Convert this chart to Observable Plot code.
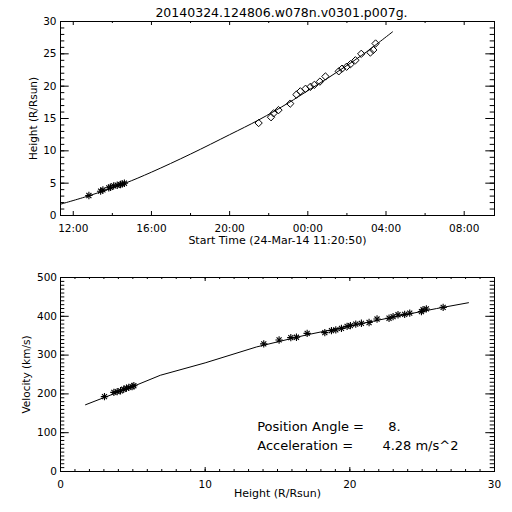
<!DOCTYPE html>
<html><head><meta charset="utf-8">
<script src="https://cdn.jsdelivr.net/npm/d3@7"></script>
<script src="https://cdn.jsdelivr.net/npm/@observablehq/plot@0.6"></script>
<style>
html,body{margin:0;padding:0;background:#fff;}
svg{display:block;}
</style></head><body><div id="chart"></div>
<script>
// ---------- data ----------
const title = "20140324.124806.w078n.v0301.p007g.";
const topXLabel = "Start Time (24-Mar-14 11:20:50)";
const topYLabel = "Height (R/Rsun)";
const botXLabel = "Height (R/Rsun)";
const botYLabel = "Velocity (km/s)";
const paText = "Position Angle =";
const paValue = "8.";
const accText = "Acceleration =";
const accValue = "4.28 m/s^2";

const timeStart = "2014-03-24T11:20:50";
const timeEnd = "2014-03-25T09:33:00";

// early (C2) points: time, height
const starTimes = ["2014-03-24T12:48","2014-03-24T13:24","2014-03-24T13:31","2014-03-24T13:49","2014-03-24T13:54","2014-03-24T14:04","2014-03-24T14:15","2014-03-24T14:25","2014-03-24T14:30","2014-03-24T14:37"];
const starHeights = [3.09,3.76,3.97,4.28,4.37,4.59,4.68,4.79,4.90,4.99];

// later (C3) points: time, height
const diamondTimes = ["2014-03-24T21:29","2014-03-24T22:07","2014-03-24T22:15","2014-03-24T22:30","2014-03-24T23:06","2014-03-24T23:25","2014-03-24T23:37","2014-03-24T23:53","2014-03-25T00:08","2014-03-25T00:20","2014-03-25T00:37","2014-03-25T00:54","2014-03-25T01:35","2014-03-25T01:45","2014-03-25T01:59","2014-03-25T02:11","2014-03-25T02:26","2014-03-25T02:44","2014-03-25T03:12","2014-03-25T03:21","2014-03-25T03:28"];
const diamondHeights = [14.3,15.2,15.8,16.3,17.3,18.7,19.2,19.6,19.9,20.2,20.7,21.5,22.3,22.7,23.0,23.4,24.0,25.0,25.2,25.6,26.6];

// height-time fit line
const fitTimes = ["2014-03-24T11:21","2014-03-24T12:48","2014-03-24T14:37","2014-03-24T16:00","2014-03-24T18:00","2014-03-24T20:00","2014-03-24T21:30","2014-03-24T23:00","2014-03-25T00:00","2014-03-25T01:00","2014-03-25T02:00","2014-03-25T03:00","2014-03-25T04:20"];
const fitHeights = [1.75,3.05,4.95,6.7,9.5,12.5,14.8,17.4,19.3,21.2,23.2,25.3,28.4];

// velocity points: height, velocity
const velHeights = [3.04,3.69,3.92,4.15,4.37,4.56,4.72,4.95,5.07,
  14.05,15.11,15.92,16.31,17.05,18.27,18.73,19.03,19.42,19.81,20.04,20.41,20.80,21.33,21.88,22.71,22.99,23.33,23.79,24.14,24.95,25.06,25.29,26.45];
const velValues = [193,204,206,208,212,215,217,219,221,
  329,339,345,346,356,358,363,365,369,374,376,380,382,384,393,395,399,404,405,408,412,417,419,423];

// velocity fit line
const vfitHeights = [1.73,3.04,5.07,6.9,10,13.55,17,20,23,26,28.2];
const vfitValues = [172,191,220,248,280,321,352,375,398,420,435];

// tick labels
const topYTicks = [0,5,10,15,20,25,30];
const topXTicks = ["2014-03-24T12:00","2014-03-24T16:00","2014-03-24T20:00","2014-03-25T00:00","2014-03-25T04:00","2014-03-25T08:00"];
const topXMinor = ["2014-03-24T14:00","2014-03-24T18:00","2014-03-24T22:00","2014-03-25T02:00","2014-03-25T06:00"];
const botXTicks = [0,10,20,30];
const botYTicks = [0,100,200,300,400,500];

// ---------- layout ----------
const FONT = "DejaVu Sans";
const W = 512, H = 256, ML = 60, MR = 18, MT = 21, MB = 41;
const FW = W - ML - MR, FH = H - MT - MB;
const toDate = s => new Date(s + (s.length === 16 ? ":00Z" : "Z"));

function ticksX(values, len) {
  return [
    Plot.tickX(values, {x: d => d, insetTop: FH - len, stroke: "black", strokeWidth: 1}),
    Plot.tickX(values, {x: d => d, insetBottom: FH - len, stroke: "black", strokeWidth: 1})
  ];
}
function ticksY(values, len) {
  return [
    Plot.tickY(values, {y: d => d, insetRight: FW - len, stroke: "black", strokeWidth: 1}),
    Plot.tickY(values, {y: d => d, insetLeft: FW - len, stroke: "black", strokeWidth: 1})
  ];
}
const baseStyle = {fontFamily: FONT, fontSize: "10.5px", color: "black", background: "white", overflow: "visible"};

// ---------- top plot ----------
const stars = starTimes.map((t, i) => ({t: toDate(t), h: starHeights[i]}));
const diamonds = diamondTimes.map((t, i) => ({t: toDate(t), h: diamondHeights[i]}));
const fit = fitTimes.map((t, i) => ({t: toDate(t), h: fitHeights[i]}));

const topPlot = Plot.plot({
  width: W, height: H, marginLeft: ML, marginRight: MR, marginTop: MT, marginBottom: MB,
  style: baseStyle,
  x: {type: "utc", domain: [toDate(timeStart), toDate(timeEnd)]},
  y: {domain: [0, 30]},
  marks: [
    ...ticksY(d3.range(0, 31, 1), 4.3),
    ...ticksY(topYTicks, 8.7),
    ...ticksX(topXMinor.map(toDate), 2),
    ...ticksX(topXTicks.map(toDate), 4),
    Plot.frame({stroke: "black", strokeWidth: 1}),
    Plot.axisX(topXTicks.map(toDate), {tickSize: 0, tickPadding: 9, tickFormat: d3.utcFormat("%H:%M"), label: null}),
    Plot.axisY(topYTicks, {tickSize: 0, tickPadding: 4, label: null}),
    Plot.line(fit, {x: "t", y: "h", stroke: "black", strokeWidth: 1, curve: "catmull-rom"}),
    Plot.dot(stars, {x: "t", y: "h", symbol: "plus", r: 2.5, stroke: "black", strokeWidth: 1.1}),
    Plot.dot(stars, {x: "t", y: "h", symbol: "times", r: 2.4, stroke: "black", strokeWidth: 1.1}),
    Plot.dot(diamonds, {x: "t", y: "h", symbol: "diamond2", r: 3.3, stroke: "black", fill: "none", strokeWidth: 1}),
    Plot.text([title], {frameAnchor: "top", textAnchor: "middle", lineAnchor: "middle", dy: -9, dx: 4, fontSize: 12.5, fill: "black"}),
    Plot.text([topXLabel], {frameAnchor: "bottom", textAnchor: "middle", lineAnchor: "middle", dy: 25, fontSize: 11, fill: "black"}),
    Plot.text([topYLabel], {frameAnchor: "left", textAnchor: "middle", lineAnchor: "middle", rotate: -90, dx: -27, fontSize: 10.5, fill: "black"})
  ]
});

// ---------- bottom plot ----------
const vel = velHeights.map((h, i) => ({h, v: velValues[i]}));
const vfit = vfitHeights.map((h, i) => ({h, v: vfitValues[i]}));

const botPlot = Plot.plot({
  width: W, height: H, marginLeft: ML, marginRight: MR, marginTop: MT, marginBottom: MB,
  style: baseStyle,
  x: {domain: [0, 30]},
  y: {domain: [0, 500]},
  marks: [
    ...ticksY(d3.range(0, 501, 10), 4.3),
    ...ticksY(botYTicks, 8.7),
    ...ticksX(d3.range(0, 31, 1), 2),
    ...ticksX(botXTicks, 4),
    Plot.frame({stroke: "black", strokeWidth: 1}),
    Plot.axisX(botXTicks, {tickSize: 0, tickPadding: 9, label: null}),
    Plot.axisY(botYTicks, {tickSize: 0, tickPadding: 3.5, label: null}),
    Plot.line(vfit, {x: "h", y: "v", stroke: "black", strokeWidth: 1}),
    Plot.dot(vel, {x: "h", y: "v", symbol: "plus", r: 2.5, stroke: "black", strokeWidth: 1.1}),
    Plot.dot(vel, {x: "h", y: "v", symbol: "times", r: 2.4, stroke: "black", strokeWidth: 1.1}),
    Plot.text([paText], {x: () => 13.6, y: () => 116, textAnchor: "start", lineAnchor: "middle", fontSize: 13, fill: "black"}),
    Plot.text([paValue], {x: () => 22.65, y: () => 116, textAnchor: "start", lineAnchor: "middle", fontSize: 13, fill: "black"}),
    Plot.text([accText], {x: () => 13.6, y: () => 67, textAnchor: "start", lineAnchor: "middle", fontSize: 13, fill: "black"}),
    Plot.text([accValue], {x: () => 22.25, y: () => 67, textAnchor: "start", lineAnchor: "middle", fontSize: 13, fill: "black"}),
    Plot.text([botXLabel], {frameAnchor: "bottom", textAnchor: "middle", lineAnchor: "middle", dy: 22, fontSize: 11, fill: "black"}),
    Plot.text([botYLabel], {frameAnchor: "left", textAnchor: "middle", lineAnchor: "middle", rotate: -90, dx: -34, fontSize: 10.5, fill: "black"})
  ]
});

const chart = document.getElementById("chart");
chart.appendChild(topPlot);
chart.appendChild(botPlot);
</script>
</body></html>
